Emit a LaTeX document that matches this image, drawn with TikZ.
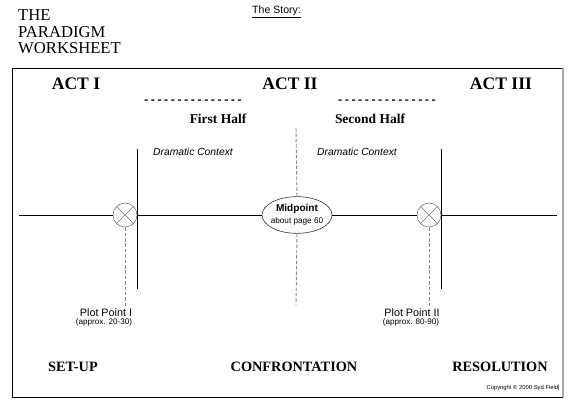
\documentclass[tikz,border=0pt]{standalone}
\usepackage{fontspec}
\setmainfont{Liberation Serif}
\setsansfont{Liberation Sans}
\setmonofont{Liberation Mono}
\usetikzlibrary{positioning,shapes.geometric}
\definecolor{PWGray}{HTML}{8C8C8C}
\definecolor{PWShade}{HTML}{A8A8A8}

\begin{document}
\begin{tikzpicture}[
  x=0.03cm,y=-0.03cm,
  frame/.style={draw=black,line width=0.8pt},
  rule/.style={draw=black,line width=0.8pt},
  guide/.style={draw=PWGray,line width=0.8pt,dash pattern=on 3pt off 1.6pt},
  act/.style={font=\fontsize{15}{18}\selectfont\bfseries,inner sep=0pt},
  half/.style={font=\fontsize{11.5}{14}\selectfont\bfseries,inner sep=0pt},
  halfbar/.style={font=\ttfamily\bfseries\fontsize{9.5}{11}\selectfont,inner sep=0pt},
  context/.style={font=\sffamily\itshape\fontsize{8.8}{10}\selectfont,inner sep=0pt},
  ppname/.style={font=\sffamily\fontsize{9.2}{10}\selectfont,inner sep=0pt},
  ppnote/.style={font=\sffamily\fontsize{6.9}{8}\selectfont,inner sep=0pt},
  stage/.style={font=\fontsize{12.2}{14}\selectfont\bfseries,inner sep=0pt},
  plotpt/.style={circle,draw=PWGray!80!black,line width=0.5pt,minimum size=0.72cm,inner sep=0pt,
    path picture={\draw[PWGray!80!black,line width=0.5pt]
      (path picture bounding box.north west) -- (path picture bounding box.south east)
      (path picture bounding box.north east) -- (path picture bounding box.south west);}},
  midpt/.style={ellipse,draw=black!80,line width=0.5pt,minimum width=2.1cm,minimum height=1.1cm,
    inner xsep=-3pt,inner ysep=0pt,align=center,font=\sffamily\fontsize{8.6}{11.5}\selectfont}
]
\useasboundingbox (0,0) rectangle (578,413);

% heading
\node[anchor=north west,inner sep=0pt,align=left,font=\fontsize{14.2}{14}\selectfont] (title) at (18,9.5) {THE\\PARADIGM\\WORKSHEET};
\node[anchor=west,inner sep=0pt,font=\sffamily\fontsize{9}{10}\selectfont] (story) at (252,12) {\underline{The Story:}};

% frame
\draw[frame] (12,68) rectangle (562,397);
\draw[PWShade,line width=1.4pt] (563,68) -- (563,397);

% acts and halves
\node[act] (act1) at (76,84) {ACT I};
\node[act] (act2) at (290,84) {ACT II};
\node[act] (act3) at (501,84) {ACT III};
\node[halfbar] (bar1) at (193,102) {---------------};
\node[halfbar] (bar2) at (387,102) {---------------};
\node[half] (half1) at (218,119) {First Half};
\node[half] (half2) at (370,119) {Second Half};
\node[context] (ctx1) at (193,152) {Dramatic Context};
\node[context] (ctx2) at (357,152) {Dramatic Context};

% paradigm line
\coordinate (tlstart) at (19,215);
\coordinate (tlend) at (557,215);
\node[plotpt] (pp1) at (125,215) {};
\node[plotpt] (pp2) at (429,215) {};
\node[midpt] (mid) at (297,215) {\textbf{Midpoint}\\[-1pt]{\fontsize{7}{8}\selectfont about page 60}};
\draw[rule] (tlstart) -- (pp1.west);
\draw[rule] (pp1.east) -- (mid.west);
\draw[rule] (mid.east) -- (pp2.west);
\draw[rule] (pp2.east) -- (tlend);

% act breaks
\coordinate (brk1top) at (137,149);
\coordinate (brk1bot) at (137,289);
\coordinate (brk2top) at (441,149);
\coordinate (brk2bot) at (441,289);
\draw[rule] (brk1top) -- (brk1bot);
\draw[rule] (brk2top) -- (brk2bot);

% guides
\coordinate (midtop) at (296,128);
\coordinate (midbot) at (296,305);
\coordinate (pp1bot) at (125,307);
\coordinate (pp2bot) at (429,307);
\draw[guide] (midtop) -- (mid.north);
\draw[guide] (mid.south) -- (midbot);
\draw[guide] (pp1.south) -- (pp1bot);
\draw[guide] (pp2.south) -- (pp2bot);

% plot points
\node[ppname] (pp1name) at (106,313) {Plot Point I};
\node[ppnote] (pp1note) at (104,322) {(approx. 20-30)};
\node[ppname] (pp2name) at (412,313) {Plot Point II};
\node[ppnote] (pp2note) at (411,322) {(approx. 80-90)};

% stages
\node[stage] (setup) at (73,367) {SET-UP};
\node[stage] (confront) at (294,367) {CONFRONTATION};
\node[stage] (resolve) at (500,367) {RESOLUTION};
\node[anchor=east,inner sep=0pt,font=\sffamily\fontsize{5}{6}\selectfont] (copy) at (560,388) {Copyright © 2000 Syd Field|};
\end{tikzpicture}
\end{document}
